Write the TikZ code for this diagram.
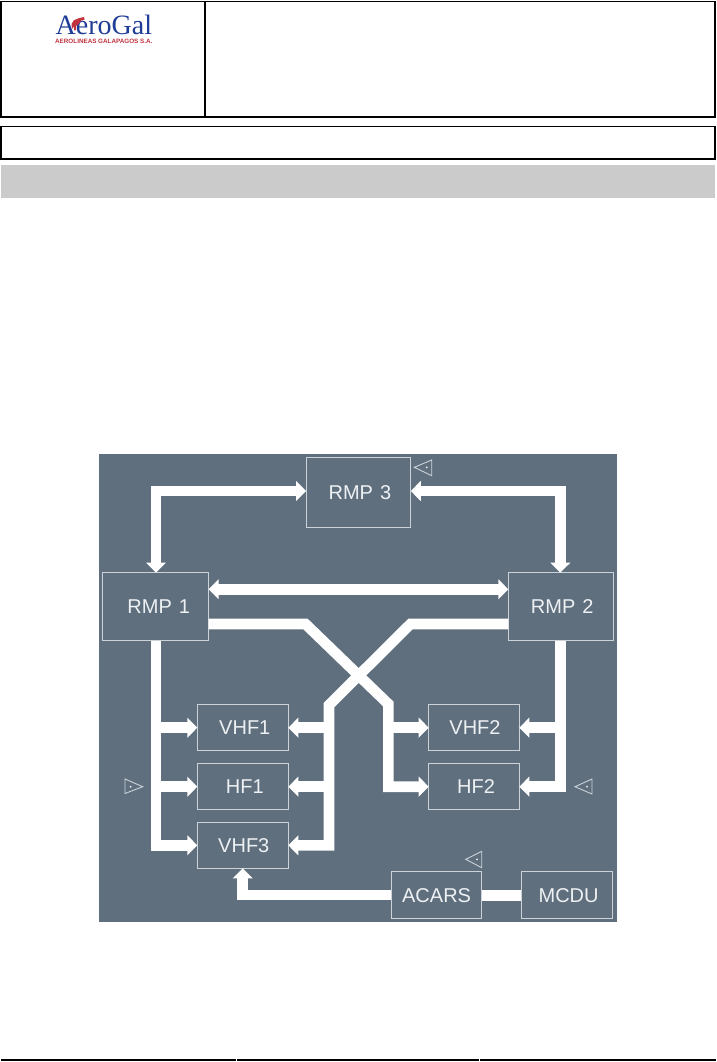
\documentclass[tikz,border=0pt]{standalone}
\usepackage{fontspec}
\setmainfont{Liberation Sans}
\newfontfamily\logoserif{Liberation Serif}
\usetikzlibrary{arrows.meta}
\definecolor{panel}{HTML}{5F6F7E}
\definecolor{edgec}{HTML}{CBD3D9}
\definecolor{labelc}{HTML}{EEF1F3}
\definecolor{band}{HTML}{CBCBCB}
\definecolor{logoblue}{HTML}{1F3C96}
\definecolor{logored}{HTML}{C2333F}
\tikzset{
  x=1pt,y=-1pt,
  unitbox/.style={draw=edgec,line width=1pt,fill=panel,inner sep=0pt,outer sep=0pt,text=labelc,font=\fontsize{20}{21}\selectfont,anchor=center},
  conn/.style={draw=white,line width=10.6pt,line join=miter},
  tipa/.style={-{Triangle[length=10pt,width=19.5pt,fill=white,color=white]}},
  tipb/.style={{Triangle[length=10pt,width=19.5pt,fill=white,color=white]}-{Triangle[length=10pt,width=19.5pt,fill=white,color=white]}},
  sidemark/.style={draw=edgec,line width=0.9pt,line join=miter},
  markdot/.style={fill=labelc,circle,inner sep=0pt,minimum size=2pt},
  frame/.style={draw=black,line width=1.8pt},
}
\begin{document}
\begin{tikzpicture}
\useasboundingbox (0,0) rectangle (716,1062);
\fill[white] (0,0) rectangle (716,1062);
% header
\draw[frame] (1,1.5) rectangle (715,117);
\draw[frame] (205,1.5) -- (205,117);
\draw[frame] (1,126.5) rectangle (715,159);
\fill[band] (1,165) rectangle (715,198);
% logo
\node[anchor=base west,inner sep=0,text=logoblue,font=\logoserif\fontsize{28}{28}\selectfont] (logo) at (55.5,35) {AeroGal};
\node[anchor=base west,inner sep=0,text=logored,font=\bfseries\fontsize{6.3}{6.5}\selectfont] (logosub) at (55,44) {AEROLINEAS GALAPAGOS S.A.};
\fill[logored] (72,29) -- (71.5,24) .. controls (72,21) and (75,19) .. (78,18.5) -- (84,17) -- (84.5,20) -- (81,20.5) .. controls (80,23) and (78,25) .. (76,26) -- (76,30) -- (74,30.5) -- (74,26.5) -- cycle;
% footer
\draw[black,line width=2pt] (1,1060) -- (236,1060);
\draw[black,line width=2pt] (237,1060) -- (479,1060);
\draw[black,line width=2pt] (480,1060) -- (716,1060);
% panel
\fill[panel] (99,454) rectangle (617,922);
% boxes
\node[unitbox,minimum width=104.7pt,minimum height=69.7pt] (rmp3) at (358.4,492.8) {\hspace*{3pt}RMP\hspace{1.5pt} 3};
\node[unitbox,minimum width=105.7pt,minimum height=68.3pt] (rmp1) at (155.8,606.8) {\hspace*{6pt}RMP\hspace{1.5pt} 1};
\node[unitbox,minimum width=105pt,minimum height=68.3pt] (rmp2) at (560.8,606.8) {\hspace*{3pt}RMP\hspace{1.5pt} 2};
\node[unitbox,minimum width=91pt,minimum height=45.7pt] (vhf1) at (242.8,727.2) {\hspace*{4pt}VHF1};
\node[unitbox,minimum width=91pt,minimum height=45.7pt] (hf1) at (242.8,786.5) {\hspace*{4pt}HF1};
\node[unitbox,minimum width=91pt,minimum height=45.7pt] (vhf3) at (242.8,845.5) {\hspace*{2pt}VHF3};
\node[unitbox,minimum width=90.6pt,minimum height=45.7pt] (vhf2) at (474,727.2) {\hspace*{2pt}VHF2};
\node[unitbox,minimum width=90.6pt,minimum height=45.7pt] (hf2) at (474,786.5) {\hspace*{4pt}HF2};
\node[unitbox,minimum width=90.7pt,minimum height=47.3pt] (acars) at (436.6,895.3) {ACARS};
\node[unitbox,minimum width=91.7pt,minimum height=47.3pt] (mcdu) at (567.1,895.3) {\hspace*{3pt}MCDU};
% routing coordinates
\coordinate (busL) at (156,845.3);
\coordinate (busR) at (560.3,786.7);
\coordinate (topL) at (156,491);
\coordinate (topR) at (560.3,491);
\coordinate (k1) at (305.5,624);
\coordinate (k2) at (388.3,704);
\coordinate (k3) at (388.3,786.7);
\coordinate (k4) at (410.5,624);
\coordinate (k5) at (329,705);
\coordinate (k6) at (329,845.3);
\coordinate (k7) at (242.7,895);
\coordinate (rowA) at (0,727.7);
\coordinate (rowB) at (0,786.7);
\coordinate (rowC) at (0,589.3);
% connectors
\draw[conn,tipb] (rmp1.north -| topL) -- (topL) -- (rmp3.west |- topL);
\draw[conn,tipb] (rmp2.north -| topR) -- (topR) -- (rmp3.east |- topR);
\draw[conn,tipb] (rmp1.east |- rowC) -- (rmp2.west |- rowC);
\draw[conn,tipa] (rmp1.south -| busL) -- (busL) -- (vhf3.west |- busL);
\draw[conn,tipa] (busL |- rowA) -- (vhf1.west |- rowA);
\draw[conn,tipa] (busL |- rowB) -- (hf1.west |- rowB);
\draw[conn,tipa] (rmp2.south -| busR) -- (busR) -- (hf2.east |- busR);
\draw[conn,tipa] (busR |- rowA) -- (vhf2.east |- rowA);
\draw[conn,tipa] (rmp1.east |- k1) -- (k1) -- (k2) -- (k3) -- (hf2.west |- k3);
\draw[conn,tipa] (k2 |- rowA) -- (vhf2.west |- rowA);
\draw[conn,tipa] (rmp2.west |- k4) -- (k4) -- (k5) -- (k6) -- (vhf3.east |- k6);
\draw[conn,tipa] (k5 |- rowA) -- (vhf1.east |- rowA);
\draw[conn,tipa] (k5 |- rowB) -- (hf1.east |- rowB);
\draw[conn,tipa] (acars.west |- k7) -- (k7) -- (k7 |- vhf3.south);
\draw[conn] (acars.east) -- (mcdu.west);
% markers
\draw[sidemark] (414.3,467.3) -- (431.7,460) -- (431.7,475.7) -- cycle;
\node[markdot] (m1) at (426.7,467.3) {};
\draw[sidemark] (142.7,786.7) -- (125,779) -- (125,793.5) -- cycle;
\node[markdot] (m2) at (130.7,786.7) {};
\draw[sidemark] (575,786.7) -- (592,779) -- (592,794) -- cycle;
\node[markdot] (m3) at (587,786.7) {};
\draw[sidemark] (465.7,859.3) -- (481.7,851.3) -- (481.7,867.7) -- cycle;
\node[markdot] (m4) at (477,859.3) {};
\end{tikzpicture}
\end{document}
